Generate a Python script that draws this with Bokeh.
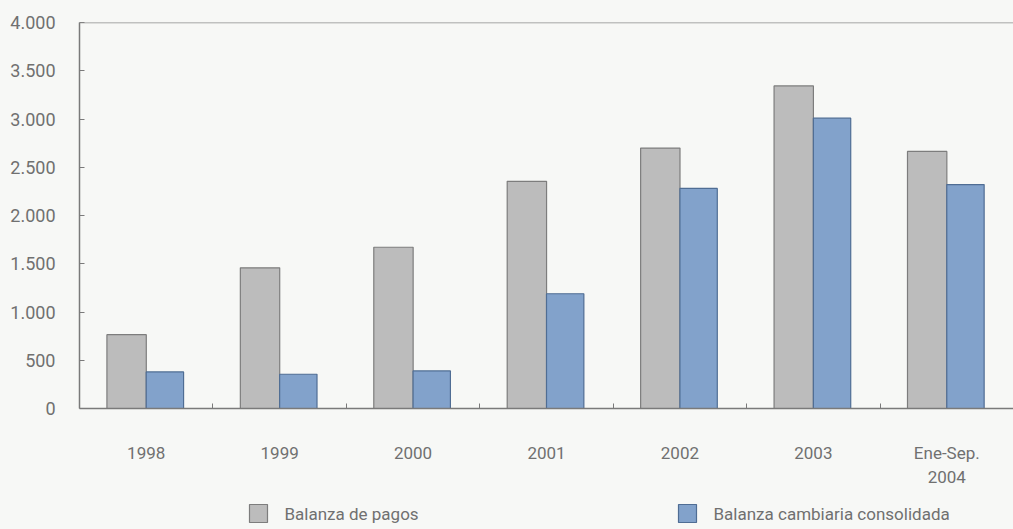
from bokeh.plotting import figure
from bokeh.models import FixedTicker, Span, ColumnDataSource, Range1d
from bokeh.layouts import column
from bokeh.core.properties import value
from bokeh.embed import file_html
from bokeh.resources import INLINE

categories = ["1998", "1999", "2000", "2001", "2002", "2003", "Ene-Sep.\n2004"]
balanza_pagos = [765, 1458, 1671, 2354, 2699, 3343, 2664]
balanza_cambiaria = [379, 355, 389, 1189, 2281, 3009, 2320]
y_ticks = [0, 500, 1000, 1500, 2000, 2500, 3000, 3500, 4000]
y_tick_labels = ["0", "500", "1.000", "1.500", "2.000", "2.500", "3.000", "3.500", "4.000"]
series_names = ["Balanza de pagos", "Balanza cambiaria consolidada"]
series_fill = ["#bcbcbc", "#82a2cb"]
series_line = ["#7d7d7d", "#4f6d94"]

FONT = "Roboto"
TXT = "#707070"
BG = "#f7f8f6"
AX = "#7a7a7a"

n = len(categories)
centers = [i + 0.5 for i in range(n)]
bounds = [i for i in range(1, n)]

p = figure(width=1013, height=492, output_backend="svg", toolbar_location=None,
           x_range=Range1d(0, n), y_range=Range1d(0, 4000),
           min_border_left=79, min_border_right=0, min_border_top=22, min_border_bottom=84)
p.background_fill_color = BG
p.border_fill_color = BG
p.outline_line_color = None
p.grid.visible = False

src = ColumnDataSource(dict(xg=[c - 0.147 for c in centers], xb=[c + 0.14 for c in centers],
                            g=balanza_pagos, b=balanza_cambiaria))
p.vbar(x="xg", top="g", width=0.295, bottom=0, source=src,
       fill_color=series_fill[0], line_color=series_line[0], line_width=1.2)
p.vbar(x="xb", top="b", width=0.28, bottom=0, source=src,
       fill_color=series_fill[1], line_color=series_line[1], line_width=1.2)

p.add_layout(Span(location=4000, dimension="width", line_color="#8a8a8a", line_width=1.5))

ya = p.yaxis[0]
ya.ticker = FixedTicker(ticks=y_ticks)
ya.major_label_overrides = {t: l for t, l in zip(y_ticks, y_tick_labels)}
ya.major_tick_in = 5
ya.major_tick_out = 0
ya.minor_tick_in = 0
ya.minor_tick_out = 0
ya.major_label_standoff = 24
ya.axis_line_color = AX
ya.axis_line_width = 1.5
ya.major_tick_line_color = AX
ya.major_label_text_font = FONT
ya.major_label_text_font_size = "18px"
ya.major_label_text_color = TXT

xa = p.xaxis[0]
xa.ticker = FixedTicker(ticks=centers, minor_ticks=bounds)
xa.major_label_overrides = {c: l for c, l in zip(centers, categories)}
xa.major_tick_in = 0
xa.major_tick_out = 0
xa.minor_tick_in = 5
xa.minor_tick_out = 0
xa.minor_tick_line_color = AX
xa.axis_line_color = AX
xa.axis_line_width = 1.5
xa.major_label_standoff = 34
xa.major_label_text_font = FONT
xa.major_label_text_font_size = "17px"
xa.major_label_text_color = TXT

# legend strip (its frame is aligned with the main frame: x from 79 to 1013)
lh = 37
leg = figure(width=1013, height=lh, output_backend="svg", toolbar_location=None,
             x_range=Range1d(79, 1013), y_range=Range1d(0, lh),
             min_border=0, min_border_left=79, min_border_right=0, min_border_top=0, min_border_bottom=0)
leg.axis.visible = False
leg.grid.visible = False
leg.outline_line_color = None
leg.background_fill_color = BG
leg.border_fill_color = BG
leg_src = ColumnDataSource(dict(sx=[258, 687], tx=[284, 713], y=[16, 16],
                                name=series_names, fill=series_fill, line=series_line))
leg.rect(x="sx", y="y", width=18, height=18, width_units="screen", height_units="screen",
         fill_color="fill", line_color="line", line_width=1.2, source=leg_src)
leg.text(x="tx", y="y", text="name", text_font=value(FONT), text_font_size="17px",
         text_color=TXT, text_baseline="middle", text_align="left", source=leg_src)

layout = column(p, leg, spacing=0, styles={"background-color": BG})
open("out.html", "w").write(file_html(layout, INLINE))
